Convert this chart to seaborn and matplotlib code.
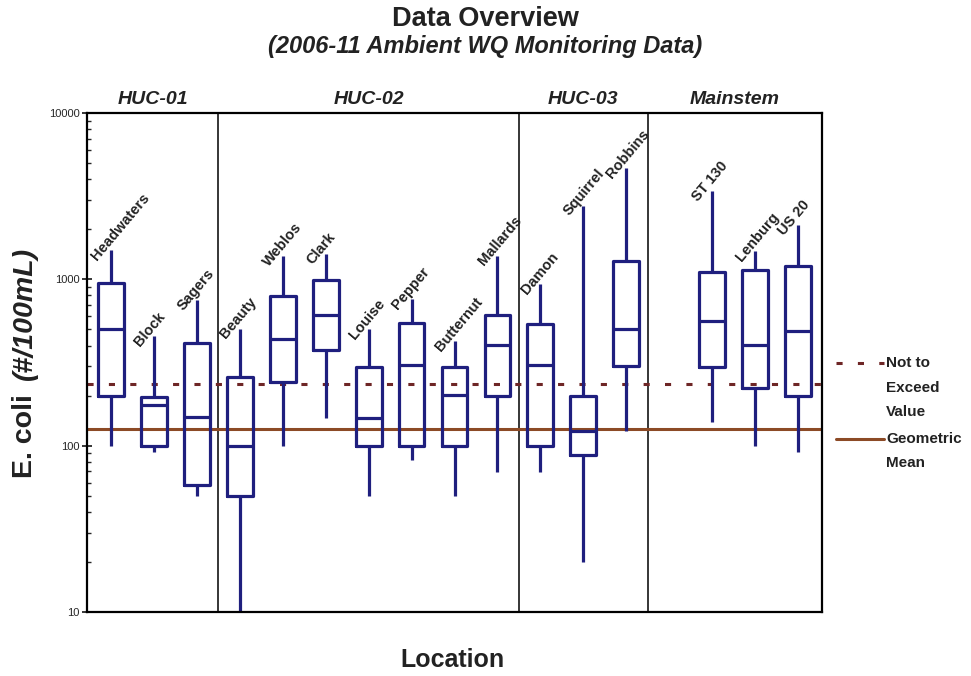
import numpy as np
import pandas as pd
import matplotlib
matplotlib.use("Agg")
import matplotlib.pyplot as plt
import matplotlib.ticker as mticker
import seaborn as sns

# ---------------- data ----------------
locations = ["Headwaters", "Block", "Sagers", "Beauty", "Weblos", "Clark",
             "Louise", "Pepper", "Butternut", "Mallards", "Damon", "Squirrel",
             "Robbins", "ST 130", "Lenburg", "US 20"]
whisker_low = [100, 92, 50, 10, 100, 147, 50, 82, 50, 69, 69, 20, 122, 139, 100, 91]
q1 = [200, 100, 58, 50, 240, 376, 100, 100, 100, 200, 100, 88, 300, 297, 221, 200]
median = [506, 175, 149, 100, 436, 607, 147, 304, 201, 405, 304, 123, 506, 558, 401, 489]
q3 = [946, 195, 415, 260, 796, 990, 297, 544, 297, 610, 536, 200, 1290, 1113, 1141, 1211]
whisker_high = [1500, 458, 750, 506, 1376, 1426, 500, 762, 425, 1390, 936, 2773, 4654, 3410, 1475, 2113]

group_names = ["HUC-01", "HUC-02", "HUC-03", "Mainstem"]
group_members = [["Headwaters", "Block", "Sagers"],
                 ["Beauty", "Weblos", "Clark", "Louise", "Pepper", "Butternut", "Mallards"],
                 ["Damon", "Squirrel", "Robbins"],
                 ["ST 130", "Lenburg", "US 20"]]

not_to_exceed = 235
geometric_mean = 126
ytick_values = [10, 100, 1000, 10000]

# ---------------- build long-form table ----------------
rows = []
for i, loc in enumerate(locations):
    for v in (whisker_low[i], q1[i], median[i], q3[i], whisker_high[i]):
        rows.append({"Location": loc, "value": v})
df = pd.DataFrame(rows)

# order with an empty slot between HUC-03 and Mainstem
order = locations[:13] + [" "] + locations[13:]

navy = "#1f1f7e"
maroon = "#6e2626"
brown = "#8c4a26"
txtc = "#222222"

sns.set_style("white")
plt.rcParams["font.family"] = ["Liberation Sans", "DejaVu Sans"]

fig = plt.figure(figsize=(9.71, 6.76), dpi=100)
W, H = 971, 676
ax_l, ax_r, ax_t, ax_b = 87, 822, 113, 612
ax = fig.add_axes([ax_l / W, 1 - ax_b / H, (ax_r - ax_l) / W, (ax_b - ax_t) / H])

# reference lines (beneath boxes)
ax.axhline(not_to_exceed, color=maroon, lw=2.2, ls=(0, (2, 5)), zorder=1)
ax.axhline(geometric_mean, color=brown, lw=2.2, zorder=1)

sns.boxplot(data=df, x="Location", y="value", order=order, whis=(0, 100),
            showcaps=False, fill=False, color=navy, linewidth=2.3, width=0.6,
            log_scale=True, ax=ax,
            medianprops=dict(color=navy, lw=2.3),
            whiskerprops=dict(color=navy, lw=2.3),
            boxprops=dict(color=navy, lw=2.3))

ax.set_xlim(-0.56, len(order) - 1 + 0.56)
ax.set_ylim(10, 10000)

# group dividers
bounds = []
for members in group_members[:-1]:
    bounds.append(order.index(members[-1]) + 0.5)
for b in bounds:
    ax.axvline(b, color="black", lw=1.1, zorder=0)

# group labels above the axes
xl, xr = ax.get_xlim()
edges = [xl] + bounds + [xr]
for k, name in enumerate(group_names):
    xc = (edges[k] + edges[k + 1]) / 2
    ax.text(xc, 1.01, name, transform=ax.get_xaxis_transform(), ha="center",
            va="bottom", fontsize=14, fontweight="bold", fontstyle="italic",
            color=txtc)

# rotated location labels at whisker tops
for i, loc in enumerate(locations):
    pos = order.index(loc)
    ax.text(pos - 0.32, whisker_high[i] * 0.86, loc, rotation=50,
            rotation_mode="anchor", ha="left", va="baseline",
            fontsize=10.5, fontweight="bold", color=txtc)

# axes styling
ax.set_xticks([])
ax.set_xlabel("")
ax.set_ylabel("")
ax.set_yticks(ytick_values)
ax.yaxis.set_major_formatter(mticker.FuncFormatter(lambda v, p: f"{int(round(v))}"))
ax.yaxis.set_minor_locator(mticker.LogLocator(base=10, subs=np.arange(2, 10)))
ax.yaxis.set_minor_formatter(mticker.NullFormatter())
ax.tick_params(axis="y", which="major", direction="inout", length=7, width=1.3,
               labelsize=8, pad=2, left=True)
ax.tick_params(axis="y", which="minor", direction="in", length=3, width=1.0, left=True)
for s in ax.spines.values():
    s.set_visible(True)
    s.set_color("black")
    s.set_linewidth(1.6)

# titles
fig.text(0.5, 1 - 19 / H, "Data Overview", ha="center", va="center",
         fontsize=19.5, fontweight="bold", color=txtc)
fig.text(0.5, 1 - 47 / H, "(2006-11 Ambient WQ Monitoring Data)", ha="center",
         va="center", fontsize=17, fontweight="bold", fontstyle="italic",
         color=txtc)
fig.text(452 / W, 1 - 660 / H, "Location", ha="center", va="center",
         fontsize=18, fontweight="bold", color=txtc)

# y label (two styles), chained end to end
t1 = fig.text(25 / W, 1 - 478 / H, "E. coli", rotation=90, ha="center",
              va="bottom", fontsize=20.5, fontweight="bold", color=txtc)
fig.canvas.draw()
bb = t1.get_window_extent(renderer=fig.canvas.get_renderer())
y_next = (bb.y1 + 14) / H
fig.text(25 / W, y_next, "(#/100mL)", rotation=90, ha="center", va="bottom",
         fontsize=20.5, fontweight="bold", fontstyle="italic", color=txtc)

# legend at right
def fx(px):
    return (px - ax_l) / (ax_r - ax_l)

def fy(py):
    return (ax_b - py) / (ax_b - ax_t)

ax.plot([fx(836), fx(884)], [fy(363), fy(363)], transform=ax.transAxes,
        color=maroon, lw=2.2, ls=(0, (2, 5)), clip_on=False)
ax.plot([fx(836), fx(884)], [fy(439), fy(439)], transform=ax.transAxes,
        color=brown, lw=2.2, clip_on=False)
legend_lines = [("Not to", 363), ("Exceed", 388), ("Value", 412),
                ("Geometric", 439), ("Mean", 463)]
for txt, py in legend_lines:
    ax.text(fx(886), fy(py), txt, transform=ax.transAxes, ha="left", va="center",
            fontsize=11, fontweight="bold", color=txtc)

fig.savefig("out.png", dpi=100)
